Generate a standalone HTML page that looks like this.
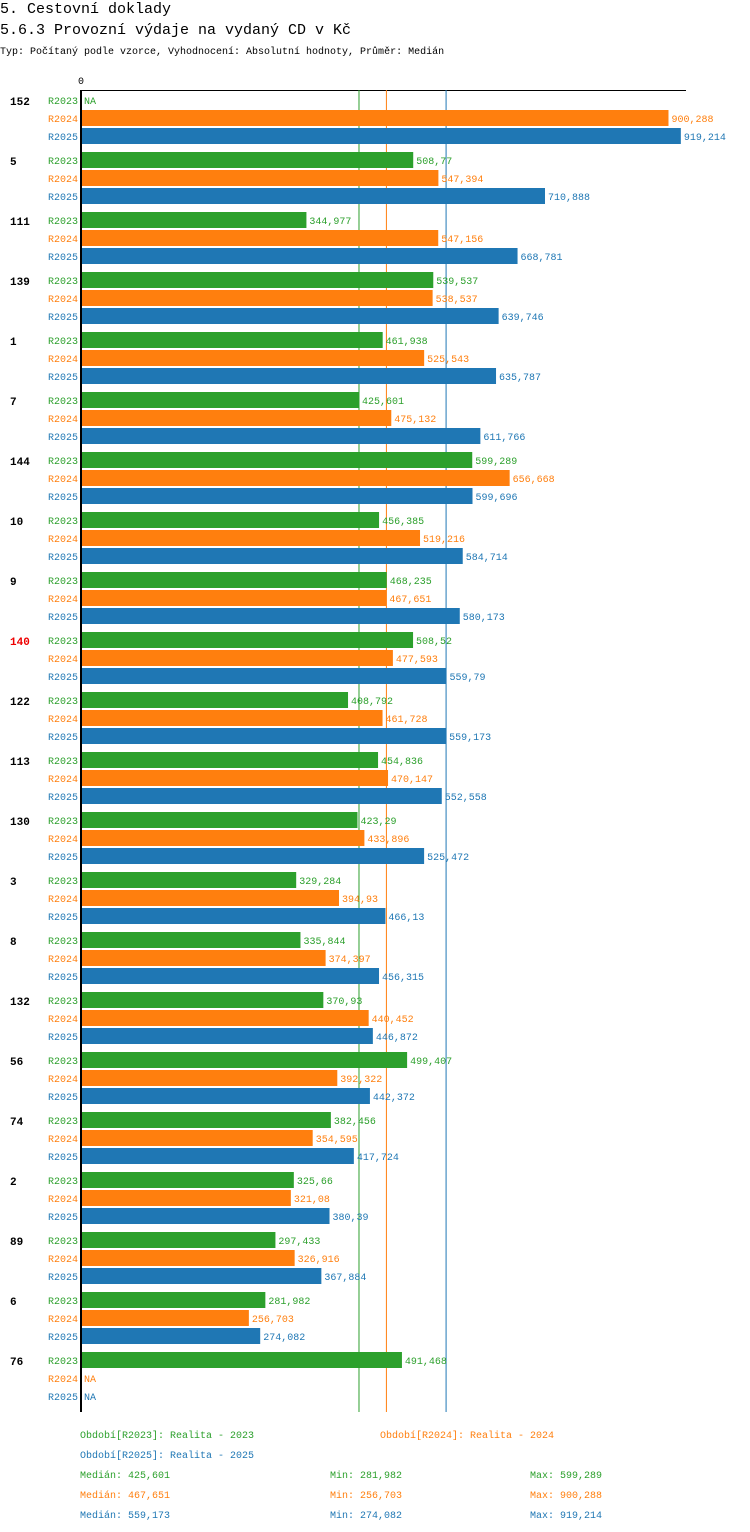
<!DOCTYPE html>
<html><head><meta charset="utf-8"><style>
body{margin:0;background:#fff;width:750px;height:1532px;overflow:hidden}
svg{display:block;font-family:"Liberation Mono",monospace}
</style></head><body>
<svg id="c" width="750" height="1532">
<text x="0" y="13" font-size="15">5. Cestovní doklady</text>
<text x="0" y="34" font-size="15">5.6.3 Provozní výdaje na vydaný CD v Kč</text>
<text x="0" y="54" font-size="10">Typ: Počítaný podle vzorce, Vyhodnocení: Absolutní hodnoty, Průměr: Medián</text>
<text x="78" y="84" font-size="10">0</text>
<g id="g"></g>
</svg>
<script>
const categories=["152","5","111","139","1","7","144","10","9","140","122","113","130","3","8","132","56","74","2","89","6","76"];
const highlighted=["140"];
const series=["R2023","R2024","R2025"];
const r2023=[null,508.77,344.977,539.537,461.938,425.601,599.289,456.385,468.235,508.52,408.792,454.836,423.29,329.284,335.844,370.93,499.407,382.456,325.66,297.433,281.982,491.468];
const r2024=[900.288,547.394,547.156,538.537,525.543,475.132,656.668,519.216,467.651,477.593,461.728,470.147,433.896,394.93,374.397,440.452,392.322,354.595,321.08,326.916,256.703,null];
const r2025=[919.214,710.888,668.781,639.746,635.787,611.766,599.696,584.714,580.173,559.79,559.173,552.558,525.472,466.13,456.315,446.872,442.372,417.724,380.39,367.884,274.082,null];
const medians=[425.601,467.651,559.173];
const mins=[281.982,256.703,274.082];
const maxs=[599.289,900.288,919.214];
const colors=["#2ca02c","#ff7f0e","#1f77b4"];
const NS="http://www.w3.org/2000/svg";
const g=document.getElementById('g');
const x=v=>81.5+v*0.652;
const fmt=v=>String(v).replace('.',',');
function mk(t,a,txt){const e=document.createElementNS(NS,t);for(const k in a)e.setAttribute(k,a[k]);if(txt!=null)e.textContent=txt;g.appendChild(e);return e;}
const data=[r2023,r2024,r2025];
const axisBottom=92+categories.length*60;
let e=mk('line',{x1:80,y1:90.5,x2:686,y2:90.5,stroke:'#000','stroke-width':1});


medians.forEach((m,k)=>{
  let ml=mk('line',{x1:x(m),y1:90,x2:x(m),y2:axisBottom,stroke:colors[k],'stroke-width':1});
  
  
});
categories.forEach((c,i)=>{
  const gy=92+i*60;
  let t=mk('text',{x:10,y:gy+13,'font-size':11,'font-weight':'bold',fill:highlighted.includes(c)?'#e00':'#000'},c);
  
  
  series.forEach((s,k)=>{
    const y=gy+k*18;
    let l=mk('text',{x:78,y:y+12,'font-size':10,fill:colors[k],'text-anchor':'end'},s);
    
    
    const v=data[k][i];
    if(v==null){
      let n=mk('text',{x:84,y:y+12,'font-size':10,fill:colors[k]},'NA');
      
      
    }else{
      let b=mk('rect',{x:82,y:y,width:x(v)-82,height:16,fill:colors[k]});
      
      
      let vl=mk('text',{x:x(v)+3,y:y+12,'font-size':10,fill:colors[k]},fmt(v));
      
      
    }
  });
});
e=mk('line',{x1:81,y1:90,x2:81,y2:axisBottom,stroke:'#000','stroke-width':2});


const leg=[["Období[R2023]: Realita - 2023",80,1438,0],["Období[R2024]: Realita - 2024",380,1438,1],["Období[R2025]: Realita - 2025",80,1458,2]];
leg.forEach(a=>{
  let t=mk('text',{x:a[1],y:a[2],'font-size':10,fill:colors[a[3]]},a[0]);
  
  
});
series.forEach((s,k)=>{
  const y=1478+k*20;
  let a=mk('text',{x:80,y:y,'font-size':10,fill:colors[k]},'Medián: '+fmt(medians[k]));
  
  
  let b=mk('text',{x:330,y:y,'font-size':10,fill:colors[k]},'Min: '+fmt(mins[k]));
  
  
  let d=mk('text',{x:530,y:y,'font-size':10,fill:colors[k]},'Max: '+fmt(maxs[k]));
  
  
});
</script>
</body></html>
